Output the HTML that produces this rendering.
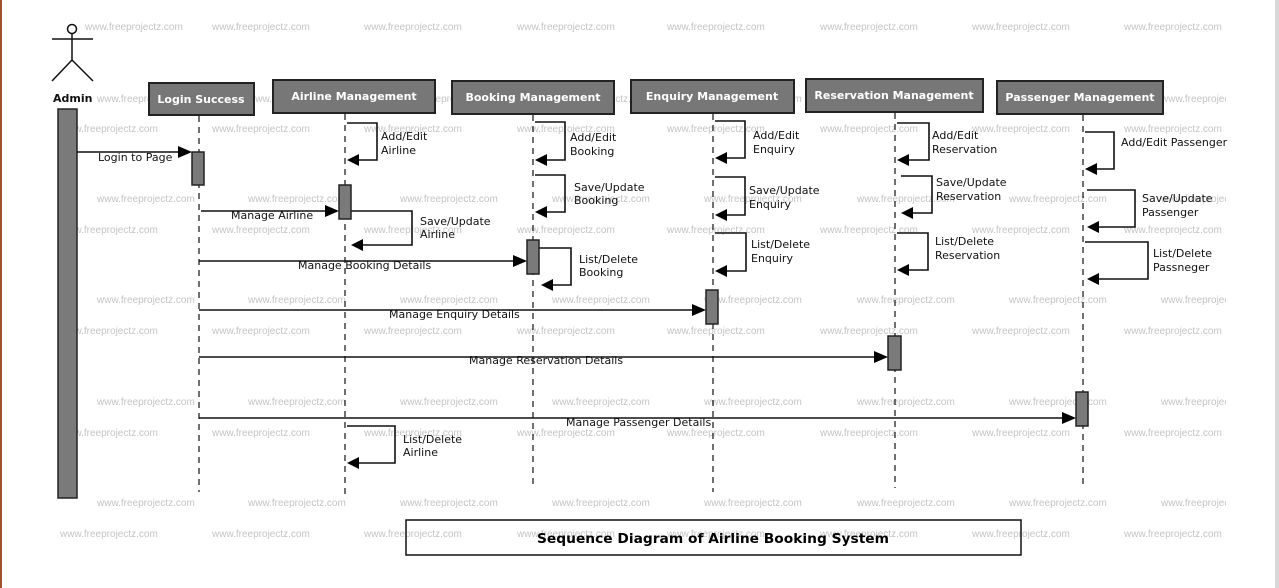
<!DOCTYPE html>
<html><head><meta charset="utf-8"><style>
html,body{margin:0;padding:0;background:#fff;}
svg{display:block;}
.wm{font-family:"Liberation Sans",sans-serif;font-size:10px;fill:#c4c4c4;}
.lbl{font-family:"DejaVu Sans",sans-serif;font-size:11px;fill:#111;}
.hd{font-family:"DejaVu Sans",sans-serif;font-size:11px;font-weight:bold;fill:#fff;}
.hbox{fill:#777;stroke:#222;stroke-width:2;}
.act{fill:#7a7a7a;stroke:#222;stroke-width:1.5;}
.ll{stroke:#111;stroke-width:1.2;stroke-dasharray:6,5;}
.ln{stroke:#111;stroke-width:1.6;fill:none;}
</style></head><body>
<svg width="1279" height="588" viewBox="0 0 1279 588" xmlns="http://www.w3.org/2000/svg">
<defs>
<clipPath id="c"><rect x="0" y="0" width="1226" height="588"/></clipPath>
</defs>
<rect x="0" y="0" width="1279" height="588" fill="#fff"/>
<rect x="0" y="0" width="2" height="588" fill="#a0522d"/>
<rect x="1275" y="0" width="4" height="588" fill="#d8d8d8"/>
<g class="wm" clip-path="url(#c)">
<text x="85" y="30">www.freeprojectz.com</text><text x="212" y="30">www.freeprojectz.com</text><text x="364" y="30">www.freeprojectz.com</text><text x="517" y="30">www.freeprojectz.com</text><text x="667" y="30">www.freeprojectz.com</text><text x="820" y="30">www.freeprojectz.com</text><text x="972" y="30">www.freeprojectz.com</text><text x="1124" y="30">www.freeprojectz.com</text>
<text x="97" y="102">www.freeprojectz.com</text><text x="248" y="102">www.freeprojectz.com</text><text x="400" y="102">www.freeprojectz.com</text><text x="552" y="102">www.freeprojectz.com</text><text x="704" y="102">www.freeprojectz.com</text><text x="857" y="102">www.freeprojectz.com</text><text x="1009" y="102">www.freeprojectz.com</text><text x="1161" y="102">www.freeprojectz.com</text>
<text x="60" y="132">www.freeprojectz.com</text><text x="212" y="132">www.freeprojectz.com</text><text x="364" y="132">www.freeprojectz.com</text><text x="517" y="132">www.freeprojectz.com</text><text x="667" y="132">www.freeprojectz.com</text><text x="820" y="132">www.freeprojectz.com</text><text x="972" y="132">www.freeprojectz.com</text><text x="1124" y="132">www.freeprojectz.com</text>
<text x="97" y="202">www.freeprojectz.com</text><text x="248" y="202">www.freeprojectz.com</text><text x="400" y="202">www.freeprojectz.com</text><text x="552" y="202">www.freeprojectz.com</text><text x="704" y="202">www.freeprojectz.com</text><text x="857" y="202">www.freeprojectz.com</text><text x="1009" y="202">www.freeprojectz.com</text><text x="1161" y="202">www.freeprojectz.com</text>
<text x="60" y="233">www.freeprojectz.com</text><text x="212" y="233">www.freeprojectz.com</text><text x="364" y="233">www.freeprojectz.com</text><text x="517" y="233">www.freeprojectz.com</text><text x="667" y="233">www.freeprojectz.com</text><text x="820" y="233">www.freeprojectz.com</text><text x="972" y="233">www.freeprojectz.com</text><text x="1124" y="233">www.freeprojectz.com</text>
<text x="97" y="303">www.freeprojectz.com</text><text x="248" y="303">www.freeprojectz.com</text><text x="400" y="303">www.freeprojectz.com</text><text x="552" y="303">www.freeprojectz.com</text><text x="704" y="303">www.freeprojectz.com</text><text x="857" y="303">www.freeprojectz.com</text><text x="1009" y="303">www.freeprojectz.com</text><text x="1161" y="303">www.freeprojectz.com</text>
<text x="60" y="334">www.freeprojectz.com</text><text x="212" y="334">www.freeprojectz.com</text><text x="364" y="334">www.freeprojectz.com</text><text x="517" y="334">www.freeprojectz.com</text><text x="667" y="334">www.freeprojectz.com</text><text x="820" y="334">www.freeprojectz.com</text><text x="972" y="334">www.freeprojectz.com</text><text x="1124" y="334">www.freeprojectz.com</text>
<text x="97" y="405">www.freeprojectz.com</text><text x="248" y="405">www.freeprojectz.com</text><text x="400" y="405">www.freeprojectz.com</text><text x="552" y="405">www.freeprojectz.com</text><text x="704" y="405">www.freeprojectz.com</text><text x="857" y="405">www.freeprojectz.com</text><text x="1009" y="405">www.freeprojectz.com</text><text x="1161" y="405">www.freeprojectz.com</text>
<text x="60" y="436">www.freeprojectz.com</text><text x="212" y="436">www.freeprojectz.com</text><text x="364" y="436">www.freeprojectz.com</text><text x="517" y="436">www.freeprojectz.com</text><text x="667" y="436">www.freeprojectz.com</text><text x="820" y="436">www.freeprojectz.com</text><text x="972" y="436">www.freeprojectz.com</text><text x="1124" y="436">www.freeprojectz.com</text>
<text x="97" y="506">www.freeprojectz.com</text><text x="248" y="506">www.freeprojectz.com</text><text x="400" y="506">www.freeprojectz.com</text><text x="552" y="506">www.freeprojectz.com</text><text x="704" y="506">www.freeprojectz.com</text><text x="857" y="506">www.freeprojectz.com</text><text x="1009" y="506">www.freeprojectz.com</text><text x="1161" y="506">www.freeprojectz.com</text>
<text x="60" y="537">www.freeprojectz.com</text><text x="212" y="537">www.freeprojectz.com</text><text x="364" y="537">www.freeprojectz.com</text><text x="517" y="537">www.freeprojectz.com</text><text x="667" y="537">www.freeprojectz.com</text><text x="820" y="537">www.freeprojectz.com</text><text x="972" y="537">www.freeprojectz.com</text><text x="1124" y="537">www.freeprojectz.com</text>
</g>

<!-- actor -->
<g stroke="#111" stroke-width="1.5" fill="none">
<circle cx="72" cy="29" r="4.5" fill="#fff"/>
<line x1="72" y1="33" x2="72" y2="60"/>
<line x1="52" y1="39" x2="93" y2="39"/>
<line x1="72" y1="60" x2="52" y2="81"/>
<line x1="72" y1="60" x2="93" y2="81"/>
</g>
<text x="53" y="102" class="lbl" style="font-weight:bold">Admin</text>
<rect x="58" y="109" width="19" height="389" class="act"/>

<!-- headers -->
<rect x="149" y="83" width="105" height="32" class="hbox"/><text x="201" y="103" class="hd" text-anchor="middle">Login Success</text>
<rect x="273" y="80" width="162" height="33" class="hbox"/><text x="354" y="100" class="hd" text-anchor="middle">Airline Management</text>
<rect x="452" y="81" width="162" height="33" class="hbox"/><text x="533" y="101" class="hd" text-anchor="middle">Booking Management</text>
<rect x="631" y="80" width="163" height="33" class="hbox"/><text x="712" y="100" class="hd" text-anchor="middle">Enquiry Management</text>
<rect x="806" y="79" width="177" height="33" class="hbox"/><text x="894" y="99" class="hd" text-anchor="middle">Reservation Management</text>
<rect x="997" y="81" width="166" height="33" class="hbox"/><text x="1080" y="101" class="hd" text-anchor="middle">Passenger Management</text>

<!-- lifelines -->
<line x1="199" y1="116" x2="199" y2="492" class="ll"/>
<line x1="345" y1="114" x2="345" y2="494" class="ll"/>
<line x1="533" y1="115" x2="533" y2="486" class="ll"/>
<line x1="713" y1="114" x2="713" y2="492" class="ll"/>
<line x1="895" y1="113" x2="895" y2="488" class="ll"/>
<line x1="1083" y1="115" x2="1083" y2="488" class="ll"/>

<!-- messages -->
<g class="ln">
<line x1="77" y1="152" x2="182" y2="152"/>
<line x1="201" y1="211" x2="329" y2="211"/>
<line x1="199" y1="261" x2="517" y2="261"/>
<line x1="199" y1="310" x2="696" y2="310"/>
<line x1="199" y1="357" x2="878" y2="357"/>
<line x1="199" y1="418" x2="1066" y2="418"/>
<!-- self loops -->
<polyline points="347,123 377,123 377,160 357,160"/>
<polyline points="351,211 412,211 412,245 361,245"/>
<polyline points="535,122 565,122 565,160 545,160"/>
<polyline points="535,175 565,175 565,212 545,212"/>
<polyline points="539,248 571,248 571,285 551,285"/>
<polyline points="715,121 745,121 745,158 725,158"/>
<polyline points="715,177 745,177 745,215 725,215"/>
<polyline points="715,233 746,233 746,271 725,271"/>
<polyline points="897,123 929,123 929,160 907,160"/>
<polyline points="901,176 932,176 932,213 911,213"/>
<polyline points="897,233 928,233 928,270 907,270"/>
<polyline points="1085,132 1114,132 1114,169 1095,169"/>
<polyline points="1087,190 1135,190 1135,227 1097,227"/>
<polyline points="1085,242 1148,242 1148,279 1097,279"/>
<polyline points="347,426 395,426 395,463 357,463"/>
</g>
<g fill="#000">
<polygon points="192,152 178,146 178,158"/>
<polygon points="339,211 325,205 325,217"/>
<polygon points="527,261 513,255 513,267"/>
<polygon points="706,310 692,304 692,316"/>
<polygon points="888,357 874,351 874,363"/>
<polygon points="1076,418 1062,412 1062,424"/>
<polygon points="347,160 359,154 359,166"/>
<polygon points="351,245 363,239 363,251"/>
<polygon points="535,160 547,154 547,166"/>
<polygon points="535,212 547,206 547,218"/>
<polygon points="541,285 553,279 553,291"/>
<polygon points="715,158 727,152 727,164"/>
<polygon points="715,215 727,209 727,221"/>
<polygon points="715,271 727,265 727,277"/>
<polygon points="897,160 909,154 909,166"/>
<polygon points="901,213 913,207 913,219"/>
<polygon points="897,270 909,264 909,276"/>
<polygon points="1085,169 1097,163 1097,175"/>
<polygon points="1087,227 1099,221 1099,233"/>
<polygon points="1087,279 1099,273 1099,285"/>
<polygon points="347,463 359,457 359,469"/>
</g>

<!-- activations -->
<rect x="192" y="152" width="12" height="33" class="act"/>
<rect x="339" y="185" width="12" height="34" class="act"/>
<rect x="527" y="240" width="12" height="34" class="act"/>
<rect x="706" y="290" width="12" height="34" class="act"/>
<rect x="888" y="336" width="13" height="34" class="act"/>
<rect x="1076" y="392" width="12" height="34" class="act"/>

<!-- labels -->
<g class="lbl">
<text x="98" y="161">Login to Page</text>
<text x="231" y="219">Manage Airline</text>
<text x="298" y="269">Manage Booking Details</text>
<text x="389" y="318">Manage Enquiry Details</text>
<text x="469" y="364">Manage Reservation Details</text>
<text x="566" y="426">Manage Passenger Details</text>
<text x="381" y="140">Add/Edit</text><text x="381" y="154">Airline</text>
<text x="420" y="225">Save/Update</text><text x="420" y="238">Airline</text>
<text x="570" y="141">Add/Edit</text><text x="570" y="155">Booking</text>
<text x="574" y="191">Save/Update</text><text x="574" y="204">Booking</text>
<text x="579" y="263">List/Delete</text><text x="579" y="276">Booking</text>
<text x="753" y="139">Add/Edit</text><text x="753" y="153">Enquiry</text>
<text x="749" y="194">Save/Update</text><text x="749" y="208">Enquiry</text>
<text x="751" y="248">List/Delete</text><text x="751" y="262">Enquiry</text>
<text x="932" y="139">Add/Edit</text><text x="932" y="153">Reservation</text>
<text x="936" y="186">Save/Update</text><text x="936" y="200">Reservation</text>
<text x="935" y="245">List/Delete</text><text x="935" y="259">Reservation</text>
<text x="1121" y="146">Add/Edit Passenger</text>
<text x="1142" y="202">Save/Update</text><text x="1142" y="216">Passenger</text>
<text x="1153" y="257">List/Delete</text><text x="1153" y="271">Passneger</text>
<text x="403" y="443">List/Delete</text><text x="403" y="456">Airline</text>
</g>

<!-- title -->
<rect x="406" y="520" width="615" height="35" fill="none" stroke="#111" stroke-width="1.5"/>
<text x="713" y="543" text-anchor="middle" font-family="DejaVu Sans, sans-serif" font-size="13" font-weight="bold" fill="#000" textLength="352" lengthAdjust="spacingAndGlyphs">Sequence Diagram of Airline Booking System</text>
</svg>
</body></html>
